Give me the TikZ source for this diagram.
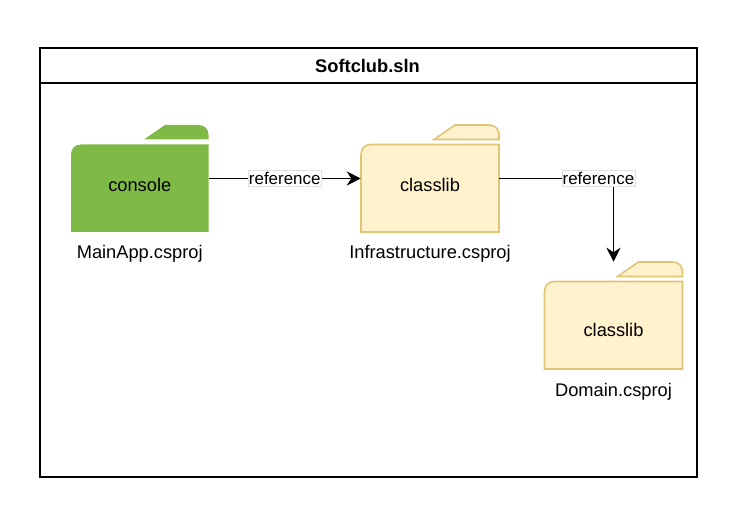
\documentclass[tikz,border=0pt]{standalone}
\usepackage{fontspec}
\setmainfont{Liberation Sans}
\usetikzlibrary{arrows.meta,positioning}
\definecolor{appgreen}{HTML}{7FBA47}
\definecolor{libfill}{HTML}{FFF2CC}
\definecolor{libline}{HTML}{DFC574}
\tikzset{
    caption/.style={font=\fontsize{13.7}{16}\selectfont,inner sep=0pt},
    reflabel/.style={font=\fontsize{12.7}{15}\selectfont,fill=white,draw=black!12,line width=0.4pt,inner xsep=0.5pt,inner ysep=1.5pt},
    refline/.style={line width=1.15pt,-{Stealth[length=10.5pt,width=10.5pt]}}
}

\begin{document}
\begin{tikzpicture}[x=0.75pt,y=-0.75pt]
    \useasboundingbox (0,0) rectangle (756,523);
    \draw [line width=0.9pt] (40,48) rectangle (697,477);
    \draw [line width=0.9pt] (40,83) -- (697,83);
    \node [caption,font=\fontsize{13.7}{16}\selectfont\bfseries] (title) at (367.5,66) {Softclub.sln};
    \foreach \name/\x/\y/\w/\fc/\lc/\kind/\kindat/\file/\fileat in {
        main/71/125/137.5/appgreen/none/console/60/MainApp.csproj/129,
        infra/361/125/138/libfill/libline/classlib/60/Infrastructure.csproj/129,
        domain/544.5/262/138/libfill/libline/classlib/68/Domain.csproj/130%
    } {
        \begin{scope}[shift={(\x,\y)}]
            \filldraw [draw=\lc,fill=\fc,line width=1.2pt] (73,14.5) -- (94,0) -- (\w-10,0) .. controls (\w-4,0) and (\w,4) .. (\w,10) -- (\w,14.5) -- cycle;
            \filldraw [draw=\lc,fill=\fc,line width=1.2pt] (0,107) -- (0,29.5) .. controls (0,23.5) and (4,19.5) .. (10,19.5) -- (\w,19.5) -- (\w,107) -- cycle;
            \node [minimum width=\w*0.75pt,minimum height=80.25pt,inner sep=0pt] (\name) at (\w/2,53.5) {};
            \node [caption] (\name-kind) at (\w/2,\kindat) {\kind};
            \node [caption] (\name-file) at (\w/2,\fileat) {\file};
        \end{scope}
    }
    \draw [refline] (main.east) -- node [reflabel] (ref-a) {reference} (infra.west);
    \draw [refline] (infra.east) -| node [reflabel,pos=0.434] (ref-b) {reference} (domain.north);
\end{tikzpicture}
\end{document}
